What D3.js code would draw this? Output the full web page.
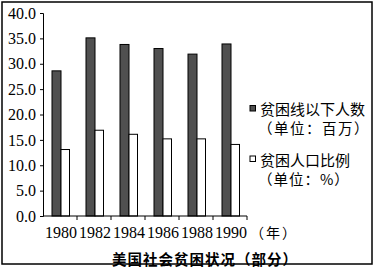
<!DOCTYPE html>
<html>
<head>
<meta charset="utf-8">
<title>美国社会贫困状况</title>
<script src="https://cdn.jsdelivr.net/npm/d3@7"></script>
<style>
  body { margin: 0; background: #fff; }
  text { fill: #000; }
</style>
</head>
<body>
<div id="chart"></div>
<script>
// data
var years = ["1980", "1982", "1984", "1986", "1988", "1990"];
var poorCount = [28.6, 35.1, 33.8, 33.0, 31.9, 33.9];   // 百万
var poorRate = [13.1, 16.9, 16.1, 15.2, 15.2, 14.1];    // %
var yTicks = [0, 5, 10, 15, 20, 25, 30, 35, 40];
var legendLines = [
  ["贫困线以下人数", "（单位：百万）"],
  ["贫困人口比例", "（单位：%）"]
];

var width = 375, height = 269;
var serif = "'Liberation Serif', 'Times New Roman', 'Noto Sans CJK SC', serif";
var cjk = "'Noto Sans CJK SC', 'Liberation Serif', sans-serif";

var svg = d3.select("#chart").append("svg")
  .attr("width", width)
  .attr("height", height);

// outer frame
svg.append("rect")
  .attr("x", 2).attr("y", 2)
  .attr("width", 370).attr("height", 262)
  .attr("fill", "none")
  .attr("stroke", "#000")
  .attr("stroke-width", 1.5);

var x = d3.scaleBand().domain(years).range([43, 247]).padding(0);
var y = d3.scaleLinear().domain([0, 40]).range([216, 13]);

// y axis
var yAxis = svg.append("g")
  .attr("transform", "translate(43,0)")
  .call(d3.axisLeft(y).tickValues(yTicks).tickFormat(d3.format(".1f")).tickSize(3).tickPadding(4));
yAxis.selectAll("text")
  .attr("font-family", serif)
  .attr("font-size", 16)
  .attr("fill", "#000");
yAxis.selectAll("line, path").attr("stroke", "#000");

var bw = 9;
function cx(d) { return x(d) + x.bandwidth() / 2 + 1; }

// dark bars: people under the poverty line
svg.append("g").selectAll("rect")
  .data(years)
  .enter().append("rect")
  .attr("x", function (d) { return cx(d) - bw; })
  .attr("y", function (d, i) { return y(poorCount[i]); })
  .attr("width", bw)
  .attr("height", function (d, i) { return y(0) - y(poorCount[i]); })
  .attr("fill", "#505050")
  .attr("stroke", "#000")
  .attr("stroke-width", 1);

// white bars: poverty rate
svg.append("g").selectAll("rect")
  .data(years)
  .enter().append("rect")
  .attr("x", function (d) { return cx(d); })
  .attr("y", function (d, i) { return y(poorRate[i]); })
  .attr("width", bw - 0.5)
  .attr("height", function (d, i) { return y(0) - y(poorRate[i]); })
  .attr("fill", "#fff")
  .attr("stroke", "#000")
  .attr("stroke-width", 1);

// x axis line + boundary ticks
svg.append("line")
  .attr("x1", 43).attr("x2", 247)
  .attr("y1", y(0)).attr("y2", y(0))
  .attr("stroke", "#000").attr("stroke-width", 1.2);

svg.append("g").selectAll("line")
  .data(years)
  .enter().append("line")
  .attr("x1", function (d) { return x(d) + x.bandwidth(); })
  .attr("x2", function (d) { return x(d) + x.bandwidth(); })
  .attr("y1", y(0)).attr("y2", y(0) + 4)
  .attr("stroke", "#000");

svg.append("g").selectAll("text")
  .data(years)
  .enter().append("text")
  .attr("x", function (d) { return x(d) + x.bandwidth() / 2 + 1; })
  .attr("y", 238)
  .attr("text-anchor", "middle")
  .attr("font-family", serif)
  .attr("font-size", 16)
  .text(function (d) { return d; });

svg.append("text")
  .attr("x", 250).attr("y", 232)
  .attr("dominant-baseline", "central")
  .attr("font-family", cjk)
  .attr("font-size", 14)
  .attr("letter-spacing", 2)
  .text("（年）");

// title
svg.append("text")
  .attr("x", 112).attr("y", 258)
  .attr("dominant-baseline", "central")
  .attr("font-family", cjk)
  .attr("font-size", 14.5)
  .attr("font-weight", "bold")
  .attr("letter-spacing", 1)
  .text("美国社会贫困状况（部分）");

// legend
var legY = [108.5, 159];
var leg = svg.append("g").selectAll("g")
  .data(legendLines)
  .enter().append("g")
  .attr("transform", function (d, i) { return "translate(0," + legY[i] + ")"; });

leg.append("rect")
  .attr("x", 250).attr("y", -3)
  .attr("width", 5.5).attr("height", 5.5)
  .attr("fill", function (d, i) { return i === 0 ? "#505050" : "#fff"; })
  .attr("stroke", "#000");

leg.append("text")
  .attr("x", 260).attr("y", 0)
  .attr("dominant-baseline", "central")
  .attr("font-family", cjk)
  .attr("font-size", 15)
  .text(function (d) { return d[0]; });

leg.append("text")
  .attr("x", 258).attr("y", 19)
  .attr("dominant-baseline", "central")
  .attr("font-family", cjk)
  .attr("font-size", 14.5)
  .attr("letter-spacing", function (d, i) { return i === 0 ? 1.5 : 1; })
  .text(function (d) { return d[1]; });
</script>
</body>
</html>
